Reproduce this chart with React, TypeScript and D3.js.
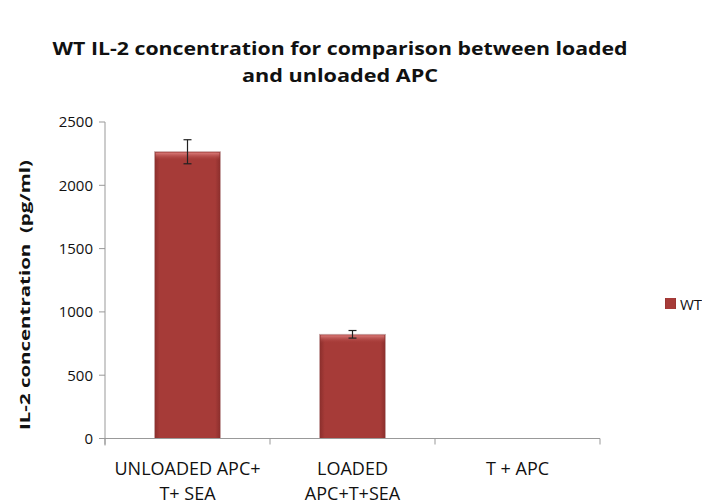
import * as d3 from "d3"

const categories = [["UNLOADED APC+", "T+ SEA"], ["LOADED", "APC+T+SEA"], ["T + APC"]]
const values = [2265, 823, 0]
const errors = [95, 30, 0]
const yTicks = [0, 500, 1000, 1500, 2000, 2500]
const seriesName = "WT"

const W = 702
const H = 504
const font = "'Open Sans', sans-serif"

export default function App() {
  const x = d3
    .scaleBand<number>()
    .domain(values.map((_, i) => i))
    .range([105, 600])
    .paddingInner(0.6)
    .paddingOuter(0.3)
  const y = d3.scaleLinear().domain([0, 2500]).range([438.5, 122])

  return (
    <svg
      width={W}
      height={H}
      style={{ position: "absolute", left: 0, top: 0, background: "#fff" }}
      fontFamily={font}
    >
      <defs>
        <linearGradient id="barH" x1="0" x2="1" y1="0" y2="0">
          <stop offset="0" stopColor="#8a2e2c" />
          <stop offset="0.08" stopColor="#a63b38" />
          <stop offset="0.92" stopColor="#a63b38" />
          <stop offset="1" stopColor="#8a2e2c" />
        </linearGradient>
        <linearGradient id="barTop" x1="0" x2="0" y1="0" y2="1">
          <stop offset="0" stopColor="#d97a78" />
          <stop offset="1" stopColor="#a63b38" stopOpacity="0" />
        </linearGradient>
      </defs>

      <text textAnchor="middle" fontWeight="bold" fontSize={18} fill="#111">
        <tspan x={340} y={55} textLength={575} lengthAdjust="spacingAndGlyphs">
          WT IL-2 concentration for comparison between loaded
        </tspan>
        <tspan x={340} y={82} textLength={196} lengthAdjust="spacingAndGlyphs">
          and unloaded APC
        </tspan>
      </text>

      <text
        transform="translate(25,295) rotate(-90)"
        textAnchor="middle"
        dominantBaseline="central"
        fontWeight="bold"
        fontSize={13.5}
        fill="#111"
        textLength={270}
        lengthAdjust="spacingAndGlyphs"
        style={{ whiteSpace: "pre" }}
      >
        IL-2 concentration  (pg/ml)
      </text>

      {/* y axis */}
      <line x1={105} x2={105} y1={y(2500)} y2={y(0) + 7} stroke="#999" />
      {yTicks.map((t) => (
        <g key={t}>
          <line x1={99} x2={105} y1={y(t)} y2={y(t)} stroke="#999" />
          <text x={93} y={y(t)} dy="0.36em" textAnchor="end" fontSize={15} fill="#111">
            {t}
          </text>
        </g>
      ))}

      {/* bars */}
      {values.map((v, i) => {
        const bx = x(i)!
        const bw = x.bandwidth()
        if (v <= 0) return null
        const cx = bx + bw / 2
        return (
          <g key={i}>
            <rect x={bx} y={y(v)} width={bw} height={y(0) - y(v)} fill="url(#barH)" stroke="#c9a8a8" strokeWidth={0.8} />
            <rect x={bx + 1} y={y(v) + 1} width={bw - 2} height={8} fill="url(#barTop)" />
            <g stroke="#222" strokeWidth={1.2}>
              <line x1={cx} x2={cx} y1={y(v + errors[i])} y2={y(v - errors[i])} />
              <line x1={cx - 4} x2={cx + 4} y1={y(v + errors[i])} y2={y(v + errors[i])} />
              <line x1={cx - 4} x2={cx + 4} y1={y(v - errors[i])} y2={y(v - errors[i])} />
            </g>
          </g>
        )
      })}

      {/* x axis */}
      <line x1={99} x2={600} y1={y(0)} y2={y(0)} stroke="#999" />
      {d3.range(values.length + 1).map((i) => {
        const tx = 105 + (600 - 105) * (i / values.length)
        return <line key={i} x1={tx} x2={tx} y1={y(0)} y2={y(0) + 6} stroke="#999" />
      })}
      {categories.map((lines, i) => (
        <text key={i} textAnchor="middle" fontSize={18} fill="#111">
          {lines.map((l, j) => (
            <tspan key={j} x={x(i)! + x.bandwidth() / 2} y={475 + j * 25}>
              {l}
            </tspan>
          ))}
        </text>
      ))}

      {/* legend */}
      <rect x={665} y={298} width={11} height={11} fill="url(#barH)" />
      <text x={680} y={309.5} fontSize={15} fill="#111">
        {seriesName}
      </text>
    </svg>
  )
}
